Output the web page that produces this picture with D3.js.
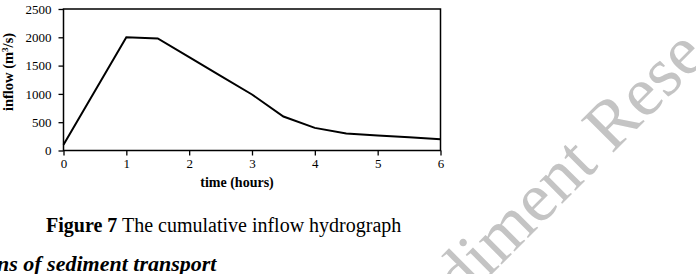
<!DOCTYPE html>
<html><head><meta charset="utf-8">
<script src="https://cdn.jsdelivr.net/npm/d3@7"></script>
<style>
html,body{margin:0;padding:0;background:#fff;}
svg{display:block;}
</style></head>
<body>
<script>
const timeHours = [0, 1, 1.5, 2, 2.5, 3, 3.5, 4, 4.5, 5, 5.5, 6];
const inflow    = [100, 2000, 1980, 1650, 1320, 990, 600, 400, 300, 265, 235, 200];
const xTicks = [0, 1, 2, 3, 4, 5, 6];
const yTicks = [0, 500, 1000, 1500, 2000, 2500];
const xLabel = "time (hours)";
const captionBold = "Figure 7";
const captionText = " The cumulative inflow hydrograph";
const headingText = "ns of sediment transport";
const watermark = "diment Rese";

const W = 696, H = 274;
const svg = d3.select("body").append("svg").attr("width", W).attr("height", H)
  .style("font-family", "'Liberation Serif','Times New Roman',serif");

// watermark
svg.append("text")
  .attr("transform", "translate(462,304) rotate(-45)")
  .attr("font-size", 70)
  .attr("fill", "#c4c4c4")
  .text(watermark);

const x = d3.scaleLinear().domain([0, 6]).range([63.5, 440.5]);
const y = d3.scaleLinear().domain([0, 2500]).range([150.5, 9]);

const xAxis = svg.append("g").attr("transform", `translate(0,${y(0)})`)
  .call(d3.axisBottom(x).tickValues(xTicks).tickSize(5).tickPadding(3).tickFormat(d3.format("d")));
const yAxis = svg.append("g").attr("transform", `translate(${x(0)},0)`)
  .call(d3.axisLeft(y).tickValues(yTicks).tickSize(5).tickPadding(7).tickFormat(d3.format("d")));
[xAxis, yAxis].forEach(g => {
  g.selectAll("path").remove();
  g.selectAll("line").attr("stroke", "#000").attr("stroke-width", 1.3);
  g.selectAll("text").attr("font-size", 13).attr("font-family", "'Liberation Serif',serif").attr("fill", "#000");
});

// frame
svg.append("rect")
  .attr("x", x(0)).attr("y", y(2500))
  .attr("width", x(6) - x(0)).attr("height", y(0) - y(2500))
  .attr("fill", "none").attr("stroke", "#000").attr("stroke-width", 1.5);

// line
const pts = timeHours.map((t, i) => [t, inflow[i]]);
svg.append("path").datum(pts)
  .attr("fill", "none").attr("stroke", "#000").attr("stroke-width", 2)
  .attr("d", d3.line().x(d => x(d[0])).y(d => y(d[1])));

// axis titles
svg.append("text").attr("x", 237).attr("y", 187).attr("text-anchor", "middle")
  .attr("font-size", 14).attr("font-weight", "bold").text(xLabel);
const yl = svg.append("text").attr("transform", "translate(13,72) rotate(-90)")
  .attr("text-anchor", "middle").attr("font-size", 14.5).attr("font-weight", "bold");
yl.append("tspan").text("inflow (m");
yl.append("tspan").attr("font-size", 9).attr("dy", -5).text("3");
yl.append("tspan").attr("dy", 5).text("/s)");

// caption
const cap = svg.append("text").attr("x", 46).attr("y", 232).attr("font-size", 20);
cap.append("tspan").attr("font-weight", "bold").text(captionBold);
cap.append("tspan").text(captionText);

svg.append("text").attr("x", -3).attr("y", 271).attr("font-size", 22)
  .attr("font-weight", "bold").attr("font-style", "italic").text(headingText);
</script>
</body></html>
